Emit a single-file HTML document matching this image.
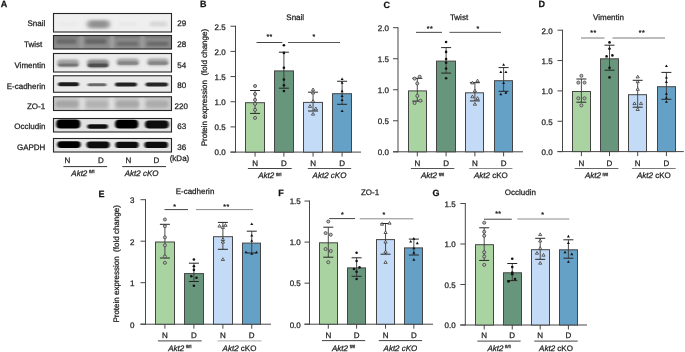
<!DOCTYPE html>
<html><head><meta charset="utf-8"><style>
html,body{margin:0;padding:0;background:#fff;}
svg{display:block;font-family:"Liberation Sans", sans-serif;will-change:transform;text-rendering:geometricPrecision;filter:blur(0.25px);}
text{stroke:#222;stroke-width:0.25px;}
</style></head><body>
<svg width="685" height="352" viewBox="0 0 685 352">
<rect width="685" height="352" fill="#fff"/>
<defs>
<filter id="b1" x="-50%" y="-100%" width="200%" height="300%"><feGaussianBlur stdDeviation="1.0 0.7"/></filter>
<filter id="b2" x="-50%" y="-100%" width="200%" height="300%"><feGaussianBlur stdDeviation="0.8 0.6"/></filter>
<filter id="b3" x="-50%" y="-100%" width="200%" height="300%"><feGaussianBlur stdDeviation="2.0 1.4"/></filter>
<filter id="b4" x="-50%" y="-100%" width="200%" height="300%"><feGaussianBlur stdDeviation="1.5 1.0"/></filter>
<clipPath id="c1"><rect x="53.5" y="13.5" width="118" height="18.5"/></clipPath>
<clipPath id="c2"><rect x="53.5" y="35.5" width="118" height="13.5"/></clipPath>
<clipPath id="c3"><rect x="53.5" y="53.5" width="118" height="18.5"/></clipPath>
<clipPath id="c4"><rect x="53.5" y="75.7" width="118" height="16.6"/></clipPath>
<clipPath id="c5"><rect x="53.5" y="96.7" width="118" height="13.9"/></clipPath>
<clipPath id="c6"><rect x="53.5" y="118.5" width="118" height="13.5"/></clipPath>
<clipPath id="c7"><rect x="53.5" y="138.5" width="118" height="13.5"/></clipPath>
</defs>
<g clip-path="url(#c1)">
<rect x="53" y="13" width="119" height="19.5" fill="#efefef"/>
<rect x="87" y="20" width="23.00" height="8.50" rx="4.00" fill="#a2a2a2" filter="url(#b3)"/>
<rect x="90.5" y="22" width="16.00" height="4.50" rx="2.25" fill="#8c8c8c" filter="url(#b3)"/>
<rect x="149.5" y="21.5" width="18.00" height="5.00" rx="2.50" fill="#d8d8d8" filter="url(#b4)"/>
<rect x="119" y="22" width="18.00" height="4.00" rx="2.00" fill="#e8e8e8" filter="url(#b4)"/>
<rect x="57" y="22" width="21.00" height="4.00" rx="2.00" fill="#ebebeb" filter="url(#b4)"/>
</g>
<rect x="53.5" y="13.5" width="118" height="18.5" fill="none" stroke="#262626" stroke-width="1.1"/>
<g clip-path="url(#c2)">
<rect x="53" y="35" width="119" height="14.5" fill="#8c8c8c"/>
<rect x="54" y="34" width="118.00" height="4.50" rx="2.25" fill="#7c7c7c" filter="url(#b4)"/>
<rect x="79.5" y="34" width="4.00" height="17.00" rx="4.00" fill="#9c9c9c" filter="url(#b4)"/>
<rect x="110" y="34" width="4.00" height="17.00" rx="4.00" fill="#a0a0a0" filter="url(#b4)"/>
<rect x="140.5" y="34" width="4.00" height="17.00" rx="4.00" fill="#9c9c9c" filter="url(#b4)"/>
<rect x="56" y="38.8" width="20.50" height="5.20" rx="2.60" fill="#6a6a6a" filter="url(#b4)"/>
<rect x="85" y="38.8" width="21.50" height="5.20" rx="2.60" fill="#666666" filter="url(#b4)"/>
<rect x="116.5" y="41.5" width="22.00" height="4.50" rx="2.25" fill="#6e6e6e" filter="url(#b4)"/>
<rect x="146.5" y="41.5" width="22.50" height="4.50" rx="2.25" fill="#6a6a6a" filter="url(#b4)"/>
</g>
<rect x="53.5" y="35.5" width="118" height="13.5" fill="none" stroke="#262626" stroke-width="1.1"/>
<g clip-path="url(#c3)">
<rect x="53" y="53" width="119" height="19.5" fill="#ebebeb"/>
<rect x="57" y="59.5" width="22.00" height="7.50" rx="3.75" fill="#a0a0a0" filter="url(#b4)"/>
<rect x="58.5" y="63.5" width="19.50" height="3.00" rx="1.50" fill="#767676" filter="url(#b2)"/>
<rect x="87" y="59.5" width="22.00" height="8.00" rx="4.00" fill="#8a8a8a" filter="url(#b4)"/>
<rect x="88" y="63.5" width="20.00" height="3.70" rx="1.85" fill="#505050" filter="url(#b2)"/>
<rect x="116.5" y="58.5" width="22.50" height="7.00" rx="3.50" fill="#a4a4a4" filter="url(#b4)"/>
<rect x="118" y="61.5" width="20.00" height="3.30" rx="1.65" fill="#868686" filter="url(#b2)"/>
<rect x="147" y="58.5" width="21.50" height="7.00" rx="3.50" fill="#a4a4a4" filter="url(#b4)"/>
<rect x="148.5" y="61.5" width="19.00" height="3.30" rx="1.65" fill="#868686" filter="url(#b2)"/>
</g>
<rect x="53.5" y="53.5" width="118" height="18.5" fill="none" stroke="#262626" stroke-width="1.1"/>
<g clip-path="url(#c4)">
<rect x="53" y="75.25" width="119" height="17.5" fill="#eaeaea"/>
<rect x="58" y="82.2" width="21.00" height="4.00" rx="2.00" fill="#1e1e1e" filter="url(#b2)"/>
<rect x="87.5" y="83.2" width="19.00" height="3.00" rx="1.50" fill="#6a6a6a" filter="url(#b2)"/>
<rect x="115" y="82.4" width="22.00" height="4.00" rx="2.00" fill="#222222" filter="url(#b2)"/>
<rect x="145.5" y="82.6" width="22.50" height="4.00" rx="2.00" fill="#262626" filter="url(#b2)"/>
</g>
<rect x="53.5" y="75.75" width="118" height="16.5" fill="none" stroke="#262626" stroke-width="1.1"/>
<g clip-path="url(#c5)">
<rect x="53" y="96.25" width="119" height="14.75" fill="#c8c8c8"/>
<rect x="79.5" y="95" width="5.50" height="17.00" rx="4.00" fill="#dcdcdc" filter="url(#b4)"/>
<rect x="109" y="95" width="5.50" height="17.00" rx="4.00" fill="#dedede" filter="url(#b4)"/>
<rect x="139" y="95" width="5.50" height="17.00" rx="4.00" fill="#dadada" filter="url(#b4)"/>
<rect x="55.5" y="100.5" width="23.00" height="7.00" rx="3.50" fill="#a6a6a6" filter="url(#b4)"/>
<rect x="86" y="101" width="22.00" height="6.50" rx="3.25" fill="#b2b2b2" filter="url(#b4)"/>
<rect x="116" y="100.5" width="23.00" height="7.00" rx="3.50" fill="#a8a8a8" filter="url(#b4)"/>
<rect x="146" y="100.5" width="22.50" height="7.00" rx="3.50" fill="#acacac" filter="url(#b4)"/>
</g>
<rect x="53.5" y="96.75" width="118" height="13.75" fill="none" stroke="#262626" stroke-width="1.1"/>
<g clip-path="url(#c6)">
<rect x="53" y="118" width="119" height="14.5" fill="#e2e2e2"/>
<rect x="56.2" y="119.6" width="24.10" height="9.00" rx="4.00" fill="#050505" filter="url(#b1)"/>
<rect x="87.3" y="124.2" width="20.70" height="4.60" rx="2.30" fill="#111111" filter="url(#b1)"/>
<rect x="115" y="119.8" width="23.30" height="8.80" rx="4.00" fill="#050505" filter="url(#b1)"/>
<rect x="145" y="120.6" width="23.80" height="8.00" rx="4.00" fill="#070707" filter="url(#b1)"/>
</g>
<rect x="53.5" y="118.5" width="118" height="13.5" fill="none" stroke="#262626" stroke-width="1.1"/>
<g clip-path="url(#c7)">
<rect x="53" y="138" width="119" height="14.5" fill="#e6e6e6"/>
<rect x="57.2" y="141.2" width="23.50" height="6.80" rx="3.40" fill="#060606" filter="url(#b1)"/>
<rect x="86.5" y="141.4" width="23.20" height="6.80" rx="3.40" fill="#080808" filter="url(#b1)"/>
<rect x="115.4" y="141.8" width="23.20" height="6.20" rx="3.10" fill="#0a0a0a" filter="url(#b1)"/>
<rect x="144.4" y="141.8" width="23.60" height="6.20" rx="3.10" fill="#0a0a0a" filter="url(#b1)"/>
</g>
<rect x="53.5" y="138.5" width="118" height="13.5" fill="none" stroke="#262626" stroke-width="1.1"/>
<text x="45.2" y="26.4" font-size="8" text-anchor="end" font-weight="normal" font-style="normal" fill="#1a1a1a" >Snail</text>
<text x="42.3" y="47.1" font-size="8" text-anchor="end" font-weight="normal" font-style="normal" fill="#1a1a1a" >Twist</text>
<text x="45.4" y="67.6" font-size="8" text-anchor="end" font-weight="normal" font-style="normal" fill="#1a1a1a" >Vimentin</text>
<text x="45.4" y="88.6" font-size="8" text-anchor="end" font-weight="normal" font-style="normal" fill="#1a1a1a" >E-cadherin</text>
<text x="45.2" y="108.8" font-size="8" text-anchor="end" font-weight="normal" font-style="normal" fill="#1a1a1a" >ZO-1</text>
<text x="45.4" y="129.3" font-size="8" text-anchor="end" font-weight="normal" font-style="normal" fill="#1a1a1a" >Occludin</text>
<text x="45.4" y="149.9" font-size="8" text-anchor="end" font-weight="normal" font-style="normal" fill="#1a1a1a" >GAPDH</text>
<text x="177.2" y="26.4" font-size="8" text-anchor="start" font-weight="normal" font-style="normal" fill="#1a1a1a" >29</text>
<text x="177.2" y="47.1" font-size="8" text-anchor="start" font-weight="normal" font-style="normal" fill="#1a1a1a" >28</text>
<text x="177.2" y="67.5" font-size="8" text-anchor="start" font-weight="normal" font-style="normal" fill="#1a1a1a" >54</text>
<text x="177.2" y="88.3" font-size="8" text-anchor="start" font-weight="normal" font-style="normal" fill="#1a1a1a" >80</text>
<text x="174.6" y="108.8" font-size="8" text-anchor="start" font-weight="normal" font-style="normal" fill="#1a1a1a" >220</text>
<text x="177.2" y="129.3" font-size="8" text-anchor="start" font-weight="normal" font-style="normal" fill="#1a1a1a" >63</text>
<text x="177.2" y="149.9" font-size="8" text-anchor="start" font-weight="normal" font-style="normal" fill="#1a1a1a" >36</text>
<text x="169.7" y="160.7" font-size="8" text-anchor="start" font-weight="normal" font-style="normal" fill="#1a1a1a" >(kDa)</text>
<text x="67.4" y="163.4" font-size="8" text-anchor="middle" font-weight="normal" font-style="normal" fill="#1a1a1a" >N</text>
<text x="100.8" y="163.4" font-size="8" text-anchor="middle" font-weight="normal" font-style="normal" fill="#1a1a1a" >D</text>
<text x="128.5" y="163.4" font-size="8" text-anchor="middle" font-weight="normal" font-style="normal" fill="#1a1a1a" >N</text>
<text x="156.5" y="163.4" font-size="8" text-anchor="middle" font-weight="normal" font-style="normal" fill="#1a1a1a" >D</text>
<line x1="63.4" y1="166.6" x2="107.1" y2="166.6" stroke="#333" stroke-width="1"/>
<line x1="122.2" y1="166.6" x2="166" y2="166.6" stroke="#333" stroke-width="1"/>
<text x="71.30" y="176.0" font-size="8" font-style="italic" fill="#1a1a1a">Akt2</text>
<text x="89.00" y="173.40" font-size="4.3" fill="#1a1a1a">fl/fl</text>
<text x="141.6" y="176.0" font-size="8" text-anchor="middle" font-style="italic" fill="#1a1a1a" style="white-space:pre">Akt2 cKO</text>
<line x1="235.5" y1="25.72" x2="235.5" y2="152.6" stroke="#474747" stroke-width="1"/>
<line x1="230.5" y1="152.1" x2="361" y2="152.1" stroke="#474747" stroke-width="1"/>
<line x1="230.5" y1="152.1" x2="235.5" y2="152.1" stroke="#474747" stroke-width="1"/>
<text x="225.6" y="155.4" font-size="8" text-anchor="end" font-weight="normal" font-style="normal" fill="#1a1a1a" >0.0</text>
<line x1="230.5" y1="126.92" x2="235.5" y2="126.92" stroke="#474747" stroke-width="1"/>
<text x="225.6" y="130.22" font-size="8" text-anchor="end" font-weight="normal" font-style="normal" fill="#1a1a1a" >0.5</text>
<line x1="230.5" y1="101.75" x2="235.5" y2="101.75" stroke="#474747" stroke-width="1"/>
<text x="225.6" y="105.05" font-size="8" text-anchor="end" font-weight="normal" font-style="normal" fill="#1a1a1a" >1.0</text>
<line x1="230.5" y1="76.57" x2="235.5" y2="76.57" stroke="#474747" stroke-width="1"/>
<text x="225.6" y="79.86999999999999" font-size="8" text-anchor="end" font-weight="normal" font-style="normal" fill="#1a1a1a" >1.5</text>
<line x1="230.5" y1="51.4" x2="235.5" y2="51.4" stroke="#474747" stroke-width="1"/>
<text x="225.6" y="54.699999999999996" font-size="8" text-anchor="end" font-weight="normal" font-style="normal" fill="#1a1a1a" >2.0</text>
<line x1="230.5" y1="26.22" x2="235.5" y2="26.22" stroke="#474747" stroke-width="1"/>
<text x="225.6" y="29.52" font-size="8" text-anchor="end" font-weight="normal" font-style="normal" fill="#1a1a1a" >2.5</text>
<rect x="245.5" y="102.70" width="19" height="49.40" fill="#a9d4a1" stroke="#454545" stroke-width="1"/>
<line x1="255.05" y1="152.1" x2="255.05" y2="156.6" stroke="#474747" stroke-width="1"/>
<rect x="274.5" y="70.90" width="19" height="81.20" fill="#68967c" stroke="#454545" stroke-width="1"/>
<line x1="283.9" y1="152.1" x2="283.9" y2="156.6" stroke="#474747" stroke-width="1"/>
<rect x="303.5" y="102.40" width="19" height="49.70" fill="#c3dbf6" stroke="#454545" stroke-width="1"/>
<line x1="313.05" y1="152.1" x2="313.05" y2="156.6" stroke="#474747" stroke-width="1"/>
<rect x="332.5" y="93.70" width="19" height="58.40" fill="#65a0c6" stroke="#454545" stroke-width="1"/>
<line x1="342.1" y1="152.1" x2="342.1" y2="156.6" stroke="#474747" stroke-width="1"/>
<line x1="255.05" y1="90.5" x2="255.05" y2="113.4" stroke="#3a3a3a" stroke-width="0.9"/>
<line x1="250.05" y1="90.5" x2="260.05" y2="90.5" stroke="#262626" stroke-width="1"/>
<line x1="250.05" y1="113.4" x2="260.05" y2="113.4" stroke="#262626" stroke-width="1"/>
<circle cx="255.05" cy="86" r="1.55" fill="#b8b8b8" stroke="#333" stroke-width="0.7"/>
<circle cx="255.05" cy="94" r="1.55" fill="#b8b8b8" stroke="#333" stroke-width="0.7"/>
<circle cx="255.05" cy="99.9" r="1.55" fill="#b8b8b8" stroke="#333" stroke-width="0.7"/>
<circle cx="255.05" cy="103.9" r="1.55" fill="#b8b8b8" stroke="#333" stroke-width="0.7"/>
<circle cx="255.05" cy="109.9" r="1.55" fill="#b8b8b8" stroke="#333" stroke-width="0.7"/>
<circle cx="255.05" cy="117.9" r="1.55" fill="#b8b8b8" stroke="#333" stroke-width="0.7"/>
<line x1="283.9" y1="52.2" x2="283.9" y2="88.2" stroke="#3a3a3a" stroke-width="0.9"/>
<line x1="278.9" y1="52.2" x2="288.9" y2="52.2" stroke="#262626" stroke-width="1"/>
<line x1="278.9" y1="88.2" x2="288.9" y2="88.2" stroke="#262626" stroke-width="1"/>
<circle cx="283.9" cy="45.2" r="1.3" fill="#111"/>
<circle cx="283.9" cy="52.9" r="1.3" fill="#111"/>
<circle cx="283.9" cy="67.8" r="1.3" fill="#111"/>
<circle cx="283.9" cy="79.6" r="1.3" fill="#111"/>
<circle cx="283.9" cy="85.3" r="1.3" fill="#111"/>
<circle cx="283.9" cy="91" r="1.3" fill="#111"/>
<line x1="313.05" y1="92.2" x2="313.05" y2="111" stroke="#3a3a3a" stroke-width="0.9"/>
<line x1="308.05" y1="92.2" x2="318.05" y2="92.2" stroke="#262626" stroke-width="1"/>
<line x1="308.05" y1="111" x2="318.05" y2="111" stroke="#262626" stroke-width="1"/>
<path d="M311.45,90.70 L313.05,88.00 L314.65,90.70 Z" fill="#eeeeee" stroke="#222" stroke-width="0.7"/>
<path d="M311.45,93.90 L313.05,91.20 L314.65,93.90 Z" fill="#eeeeee" stroke="#222" stroke-width="0.7"/>
<path d="M311.45,102.30 L313.05,99.60 L314.65,102.30 Z" fill="#eeeeee" stroke="#222" stroke-width="0.7"/>
<path d="M308.40,107.40 L310.00,104.70 L311.60,107.40 Z" fill="#eeeeee" stroke="#222" stroke-width="0.7"/>
<path d="M314.20,109.80 L315.80,107.10 L317.40,109.80 Z" fill="#eeeeee" stroke="#222" stroke-width="0.7"/>
<path d="M311.45,115.10 L313.05,112.40 L314.65,115.10 Z" fill="#eeeeee" stroke="#222" stroke-width="0.7"/>
<line x1="342.1" y1="81.25" x2="342.1" y2="104.3" stroke="#3a3a3a" stroke-width="0.9"/>
<line x1="337.1" y1="81.25" x2="347.1" y2="81.25" stroke="#262626" stroke-width="1"/>
<line x1="337.1" y1="104.3" x2="347.1" y2="104.3" stroke="#262626" stroke-width="1"/>
<path d="M340.60,80.00 L342.10,77.40 L343.60,80.00 Z" fill="#111"/>
<path d="M340.60,83.80 L342.10,81.20 L343.60,83.80 Z" fill="#111"/>
<path d="M340.60,92.20 L342.10,89.60 L343.60,92.20 Z" fill="#111"/>
<path d="M340.60,97.00 L342.10,94.40 L343.60,97.00 Z" fill="#111"/>
<path d="M340.60,101.00 L342.10,98.40 L343.60,101.00 Z" fill="#111"/>
<path d="M340.60,112.10 L342.10,109.50 L343.60,112.10 Z" fill="#111"/>
<text x="295.2" y="20.3" font-size="8" text-anchor="middle" font-weight="normal" font-style="normal" fill="#1a1a1a" >Snail</text>
<line x1="256.5" y1="42.5" x2="282.3" y2="42.5" stroke="#444" stroke-width="1"/>
<text x="269.55" y="39.4" font-size="7" text-anchor="middle" font-weight="normal" font-style="normal" fill="#1a1a1a" letter-spacing="0.4">**</text>
<line x1="288" y1="42.5" x2="340" y2="42.5" stroke="#555" stroke-width="1"/>
<text x="314.1" y="39.3" font-size="7" text-anchor="middle" font-weight="normal" font-style="normal" fill="#1a1a1a" letter-spacing="0.4">*</text>
<text x="255.05" y="165.8" font-size="8" text-anchor="middle" font-weight="normal" font-style="normal" fill="#1a1a1a" >N</text>
<text x="283.9" y="165.8" font-size="8" text-anchor="middle" font-weight="normal" font-style="normal" fill="#1a1a1a" >D</text>
<text x="313.05" y="165.8" font-size="8" text-anchor="middle" font-weight="normal" font-style="normal" fill="#1a1a1a" >N</text>
<text x="342.1" y="165.8" font-size="8" text-anchor="middle" font-weight="normal" font-style="normal" fill="#1a1a1a" >D</text>
<line x1="247.9" y1="168.5" x2="291.7" y2="168.5" stroke="#444" stroke-width="1"/>
<line x1="307.8" y1="168.5" x2="351.2" y2="168.5" stroke="#555" stroke-width="1"/>
<text x="258.20" y="178.1" font-size="8" font-style="italic" fill="#1a1a1a">Akt2</text>
<text x="275.90" y="175.50" font-size="4.3" fill="#1a1a1a">fl/fl</text>
<text x="329.5" y="178.1" font-size="8" text-anchor="middle" font-style="italic" fill="#1a1a1a" style="white-space:pre">Akt2 cKO</text>
<text transform="translate(207.0,87.6) rotate(-90)" font-size="8" text-anchor="middle" fill="#1a1a1a" style="white-space:pre">Protein expression  (fold change)</text>
<line x1="398" y1="27.2" x2="398" y2="152.3" stroke="#474747" stroke-width="1"/>
<line x1="393" y1="151.8" x2="523" y2="151.8" stroke="#474747" stroke-width="1"/>
<line x1="393" y1="151.8" x2="398" y2="151.8" stroke="#474747" stroke-width="1"/>
<text x="388.9" y="155.10000000000002" font-size="8" text-anchor="end" font-weight="normal" font-style="normal" fill="#1a1a1a" >0.0</text>
<line x1="393" y1="120.78" x2="398" y2="120.78" stroke="#474747" stroke-width="1"/>
<text x="388.9" y="124.08" font-size="8" text-anchor="end" font-weight="normal" font-style="normal" fill="#1a1a1a" >0.5</text>
<line x1="393" y1="89.75" x2="398" y2="89.75" stroke="#474747" stroke-width="1"/>
<text x="388.9" y="93.05" font-size="8" text-anchor="end" font-weight="normal" font-style="normal" fill="#1a1a1a" >1.0</text>
<line x1="393" y1="58.73" x2="398" y2="58.73" stroke="#474747" stroke-width="1"/>
<text x="388.9" y="62.029999999999994" font-size="8" text-anchor="end" font-weight="normal" font-style="normal" fill="#1a1a1a" >1.5</text>
<line x1="393" y1="27.7" x2="398" y2="27.7" stroke="#474747" stroke-width="1"/>
<text x="388.9" y="31.0" font-size="8" text-anchor="end" font-weight="normal" font-style="normal" fill="#1a1a1a" >2.0</text>
<rect x="408.5" y="90.90" width="18" height="60.90" fill="#a9d4a1" stroke="#454545" stroke-width="1"/>
<line x1="417.3" y1="151.8" x2="417.3" y2="156.3" stroke="#474747" stroke-width="1"/>
<rect x="436.5" y="61.10" width="19" height="90.70" fill="#68967c" stroke="#454545" stroke-width="1"/>
<line x1="446.1" y1="151.8" x2="446.1" y2="156.3" stroke="#474747" stroke-width="1"/>
<rect x="465.5" y="92.80" width="18" height="59.00" fill="#c3dbf6" stroke="#454545" stroke-width="1"/>
<line x1="474.9" y1="151.8" x2="474.9" y2="156.3" stroke="#474747" stroke-width="1"/>
<rect x="494.5" y="80.70" width="18" height="71.10" fill="#65a0c6" stroke="#454545" stroke-width="1"/>
<line x1="503.6" y1="151.8" x2="503.6" y2="156.3" stroke="#474747" stroke-width="1"/>
<line x1="417.3" y1="78.3" x2="417.3" y2="101.1" stroke="#3a3a3a" stroke-width="0.9"/>
<line x1="412.3" y1="78.3" x2="422.3" y2="78.3" stroke="#262626" stroke-width="1"/>
<line x1="412.3" y1="101.1" x2="422.3" y2="101.1" stroke="#262626" stroke-width="1"/>
<circle cx="414.6" cy="78.6" r="1.55" fill="#b8b8b8" stroke="#333" stroke-width="0.7"/>
<circle cx="419.7" cy="76.7" r="1.55" fill="#b8b8b8" stroke="#333" stroke-width="0.7"/>
<circle cx="417.3" cy="83.4" r="1.55" fill="#b8b8b8" stroke="#333" stroke-width="0.7"/>
<circle cx="417.3" cy="95.9" r="1.55" fill="#b8b8b8" stroke="#333" stroke-width="0.7"/>
<circle cx="420.4" cy="100.7" r="1.55" fill="#b8b8b8" stroke="#333" stroke-width="0.7"/>
<circle cx="414.6" cy="103" r="1.55" fill="#b8b8b8" stroke="#333" stroke-width="0.7"/>
<line x1="446.1" y1="47.6" x2="446.1" y2="73.1" stroke="#3a3a3a" stroke-width="0.9"/>
<line x1="441.1" y1="47.6" x2="451.1" y2="47.6" stroke="#262626" stroke-width="1"/>
<line x1="441.1" y1="73.1" x2="451.1" y2="73.1" stroke="#262626" stroke-width="1"/>
<circle cx="446.1" cy="42" r="1.3" fill="#111"/>
<circle cx="446.1" cy="51.9" r="1.3" fill="#111"/>
<circle cx="446.1" cy="59.1" r="1.3" fill="#111"/>
<circle cx="446.1" cy="62.7" r="1.3" fill="#111"/>
<circle cx="446.1" cy="68.6" r="1.3" fill="#111"/>
<circle cx="446.1" cy="78.2" r="1.3" fill="#111"/>
<line x1="474.9" y1="82.7" x2="474.9" y2="100.9" stroke="#3a3a3a" stroke-width="0.9"/>
<line x1="469.9" y1="82.7" x2="479.9" y2="82.7" stroke="#262626" stroke-width="1"/>
<line x1="469.9" y1="100.9" x2="479.9" y2="100.9" stroke="#262626" stroke-width="1"/>
<path d="M470.80,83.90 L472.40,81.20 L474.00,83.90 Z" fill="#eeeeee" stroke="#222" stroke-width="0.7"/>
<path d="M475.90,81.90 L477.50,79.20 L479.10,81.90 Z" fill="#eeeeee" stroke="#222" stroke-width="0.7"/>
<path d="M473.30,91.90 L474.90,89.20 L476.50,91.90 Z" fill="#eeeeee" stroke="#222" stroke-width="0.7"/>
<path d="M470.80,97.80 L472.40,95.10 L474.00,97.80 Z" fill="#eeeeee" stroke="#222" stroke-width="0.7"/>
<path d="M475.90,99.40 L477.50,96.70 L479.10,99.40 Z" fill="#eeeeee" stroke="#222" stroke-width="0.7"/>
<path d="M473.30,105.20 L474.90,102.50 L476.50,105.20 Z" fill="#eeeeee" stroke="#222" stroke-width="0.7"/>
<line x1="503.6" y1="67.6" x2="503.6" y2="91.3" stroke="#3a3a3a" stroke-width="0.9"/>
<line x1="498.6" y1="67.6" x2="508.6" y2="67.6" stroke="#262626" stroke-width="1"/>
<line x1="498.6" y1="91.3" x2="508.6" y2="91.3" stroke="#262626" stroke-width="1"/>
<path d="M502.10,65.80 L503.60,63.20 L505.10,65.80 Z" fill="#111"/>
<path d="M499.30,73.00 L500.80,70.40 L502.30,73.00 Z" fill="#111"/>
<path d="M504.40,73.00 L505.90,70.40 L507.40,73.00 Z" fill="#111"/>
<path d="M502.10,84.10 L503.60,81.50 L505.10,84.10 Z" fill="#111"/>
<path d="M499.30,95.30 L500.80,92.70 L502.30,95.30 Z" fill="#111"/>
<path d="M504.40,93.70 L505.90,91.10 L507.40,93.70 Z" fill="#111"/>
<text x="459" y="20.3" font-size="8" text-anchor="middle" font-weight="normal" font-style="normal" fill="#1a1a1a" >Twist</text>
<line x1="416" y1="32.35" x2="442" y2="32.35" stroke="#444" stroke-width="1"/>
<text x="429.95" y="30.9" font-size="7" text-anchor="middle" font-weight="normal" font-style="normal" fill="#1a1a1a" letter-spacing="0.4">**</text>
<line x1="449.5" y1="32.35" x2="501" y2="32.35" stroke="#555" stroke-width="1"/>
<text x="478.05" y="31.2" font-size="7" text-anchor="middle" font-weight="normal" font-style="normal" fill="#1a1a1a" letter-spacing="0.4">*</text>
<text x="417.3" y="165.8" font-size="8" text-anchor="middle" font-weight="normal" font-style="normal" fill="#1a1a1a" >N</text>
<text x="446.1" y="165.8" font-size="8" text-anchor="middle" font-weight="normal" font-style="normal" fill="#1a1a1a" >D</text>
<text x="474.9" y="165.8" font-size="8" text-anchor="middle" font-weight="normal" font-style="normal" fill="#1a1a1a" >N</text>
<text x="503.6" y="165.8" font-size="8" text-anchor="middle" font-weight="normal" font-style="normal" fill="#1a1a1a" >D</text>
<line x1="410.9" y1="168.5" x2="454.3" y2="168.5" stroke="#555" stroke-width="1"/>
<line x1="469.2" y1="168.5" x2="512.4" y2="168.5" stroke="#888" stroke-width="1"/>
<text x="421.00" y="178.1" font-size="8" font-style="italic" fill="#1a1a1a">Akt2</text>
<text x="438.70" y="175.50" font-size="4.3" fill="#1a1a1a">fl/fl</text>
<text x="490.79999999999995" y="178.1" font-size="8" text-anchor="middle" fill="#1a1a1a"><tspan font-style="italic">Akt2</tspan> cKO</text>
<line x1="562.5" y1="29.7" x2="562.5" y2="152.1" stroke="#474747" stroke-width="1"/>
<line x1="557.5" y1="151.6" x2="683.8" y2="151.6" stroke="#474747" stroke-width="1"/>
<line x1="557.5" y1="151.6" x2="562.5" y2="151.6" stroke="#474747" stroke-width="1"/>
<text x="552.7" y="154.9" font-size="8" text-anchor="end" font-weight="normal" font-style="normal" fill="#1a1a1a" >0.0</text>
<line x1="557.5" y1="121.25" x2="562.5" y2="121.25" stroke="#474747" stroke-width="1"/>
<text x="552.7" y="124.55" font-size="8" text-anchor="end" font-weight="normal" font-style="normal" fill="#1a1a1a" >0.5</text>
<line x1="557.5" y1="90.9" x2="562.5" y2="90.9" stroke="#474747" stroke-width="1"/>
<text x="552.7" y="94.2" font-size="8" text-anchor="end" font-weight="normal" font-style="normal" fill="#1a1a1a" >1.0</text>
<line x1="557.5" y1="60.55" x2="562.5" y2="60.55" stroke="#474747" stroke-width="1"/>
<text x="552.7" y="63.849999999999994" font-size="8" text-anchor="end" font-weight="normal" font-style="normal" fill="#1a1a1a" >1.5</text>
<line x1="557.5" y1="30.2" x2="562.5" y2="30.2" stroke="#474747" stroke-width="1"/>
<text x="552.7" y="33.5" font-size="8" text-anchor="end" font-weight="normal" font-style="normal" fill="#1a1a1a" >2.0</text>
<rect x="572.5" y="91.50" width="18" height="60.10" fill="#a9d4a1" stroke="#454545" stroke-width="1"/>
<line x1="581.4" y1="151.6" x2="581.4" y2="156.1" stroke="#474747" stroke-width="1"/>
<rect x="600.5" y="58.80" width="18" height="92.80" fill="#68967c" stroke="#454545" stroke-width="1"/>
<line x1="609.5" y1="151.6" x2="609.5" y2="156.1" stroke="#474747" stroke-width="1"/>
<rect x="628.5" y="94.70" width="18" height="56.90" fill="#c3dbf6" stroke="#454545" stroke-width="1"/>
<line x1="637.7" y1="151.6" x2="637.7" y2="156.1" stroke="#474747" stroke-width="1"/>
<rect x="657.5" y="86.70" width="18" height="64.90" fill="#65a0c6" stroke="#454545" stroke-width="1"/>
<line x1="666.4" y1="151.6" x2="666.4" y2="156.1" stroke="#474747" stroke-width="1"/>
<line x1="581.4" y1="79" x2="581.4" y2="102.2" stroke="#3a3a3a" stroke-width="0.9"/>
<line x1="576.4" y1="79" x2="586.4" y2="79" stroke="#262626" stroke-width="1"/>
<line x1="576.4" y1="102.2" x2="586.4" y2="102.2" stroke="#262626" stroke-width="1"/>
<circle cx="581.4" cy="75.8" r="1.55" fill="#b8b8b8" stroke="#333" stroke-width="0.7"/>
<circle cx="578.3" cy="82.6" r="1.55" fill="#b8b8b8" stroke="#333" stroke-width="0.7"/>
<circle cx="584.5" cy="82.6" r="1.55" fill="#b8b8b8" stroke="#333" stroke-width="0.7"/>
<circle cx="578.3" cy="98.3" r="1.55" fill="#b8b8b8" stroke="#333" stroke-width="0.7"/>
<circle cx="584.5" cy="98.3" r="1.55" fill="#b8b8b8" stroke="#333" stroke-width="0.7"/>
<circle cx="581.4" cy="105.4" r="1.55" fill="#b8b8b8" stroke="#333" stroke-width="0.7"/>
<line x1="609.5" y1="45.2" x2="609.5" y2="70.2" stroke="#3a3a3a" stroke-width="0.9"/>
<line x1="604.5" y1="45.2" x2="614.5" y2="45.2" stroke="#262626" stroke-width="1"/>
<line x1="604.5" y1="70.2" x2="614.5" y2="70.2" stroke="#262626" stroke-width="1"/>
<circle cx="609.5" cy="42.4" r="1.3" fill="#111"/>
<circle cx="609.5" cy="48.7" r="1.3" fill="#111"/>
<circle cx="606.6" cy="56.4" r="1.3" fill="#111"/>
<circle cx="612.4" cy="55.4" r="1.3" fill="#111"/>
<circle cx="609.5" cy="67.8" r="1.3" fill="#111"/>
<circle cx="609.5" cy="77.4" r="1.3" fill="#111"/>
<line x1="637.7" y1="80.3" x2="637.7" y2="107.2" stroke="#3a3a3a" stroke-width="0.9"/>
<line x1="632.7" y1="80.3" x2="642.7" y2="80.3" stroke="#262626" stroke-width="1"/>
<line x1="632.7" y1="107.2" x2="642.7" y2="107.2" stroke="#262626" stroke-width="1"/>
<path d="M636.10,77.90 L637.70,75.20 L639.30,77.90 Z" fill="#eeeeee" stroke="#222" stroke-width="0.7"/>
<path d="M636.10,82.70 L637.70,80.00 L639.30,82.70 Z" fill="#eeeeee" stroke="#222" stroke-width="0.7"/>
<path d="M636.10,90.30 L637.70,87.60 L639.30,90.30 Z" fill="#eeeeee" stroke="#222" stroke-width="0.7"/>
<path d="M632.90,104.60 L634.50,101.90 L636.10,104.60 Z" fill="#eeeeee" stroke="#222" stroke-width="0.7"/>
<path d="M639.40,104.60 L641.00,101.90 L642.60,104.60 Z" fill="#eeeeee" stroke="#222" stroke-width="0.7"/>
<path d="M636.10,110.50 L637.70,107.80 L639.30,110.50 Z" fill="#eeeeee" stroke="#222" stroke-width="0.7"/>
<line x1="666.4" y1="72.4" x2="666.4" y2="99.3" stroke="#3a3a3a" stroke-width="0.9"/>
<line x1="661.4" y1="72.4" x2="671.4" y2="72.4" stroke="#262626" stroke-width="1"/>
<line x1="661.4" y1="99.3" x2="671.4" y2="99.3" stroke="#262626" stroke-width="1"/>
<path d="M664.90,67.00 L666.40,64.40 L667.90,67.00 Z" fill="#111"/>
<path d="M664.90,78.60 L666.40,76.00 L667.90,78.60 Z" fill="#111"/>
<path d="M664.90,82.90 L666.40,80.30 L667.90,82.90 Z" fill="#111"/>
<path d="M664.90,94.80 L666.40,92.20 L667.90,94.80 Z" fill="#111"/>
<path d="M664.90,98.80 L666.40,96.20 L667.90,98.80 Z" fill="#111"/>
<path d="M664.90,102.80 L666.40,100.20 L667.90,102.80 Z" fill="#111"/>
<text x="608.5" y="20.3" font-size="8" text-anchor="middle" font-weight="normal" font-style="normal" fill="#1a1a1a" >Vimentin</text>
<line x1="581" y1="38" x2="604.5" y2="38" stroke="#7a7a7a" stroke-width="1"/>
<text x="593.4" y="34.6" font-size="7" text-anchor="middle" font-weight="normal" font-style="normal" fill="#1a1a1a" letter-spacing="0.4">**</text>
<line x1="612.5" y1="38" x2="665" y2="38" stroke="#7a7a7a" stroke-width="1"/>
<text x="641.95" y="35.1" font-size="7" text-anchor="middle" font-weight="normal" font-style="normal" fill="#1a1a1a" letter-spacing="0.4">**</text>
<text x="581.4" y="165.8" font-size="8" text-anchor="middle" font-weight="normal" font-style="normal" fill="#1a1a1a" >N</text>
<text x="609.5" y="165.8" font-size="8" text-anchor="middle" font-weight="normal" font-style="normal" fill="#1a1a1a" >D</text>
<text x="637.7" y="165.8" font-size="8" text-anchor="middle" font-weight="normal" font-style="normal" fill="#1a1a1a" >N</text>
<text x="666.4" y="165.8" font-size="8" text-anchor="middle" font-weight="normal" font-style="normal" fill="#1a1a1a" >D</text>
<line x1="574.6" y1="168.5" x2="618.4" y2="168.5" stroke="#666" stroke-width="1"/>
<line x1="631.9" y1="168.5" x2="675.7" y2="168.5" stroke="#7a7a7a" stroke-width="1"/>
<text x="584.90" y="178.1" font-size="8" font-style="italic" fill="#1a1a1a">Akt2</text>
<text x="602.60" y="175.50" font-size="4.3" fill="#1a1a1a">fl/fl</text>
<text x="653.8" y="178.1" font-size="8" text-anchor="middle" fill="#1a1a1a"><tspan font-style="italic">Akt2</tspan> cKO</text>
<line x1="145.5" y1="199.2" x2="145.5" y2="324.7" stroke="#474747" stroke-width="1"/>
<line x1="140.5" y1="324.2" x2="271" y2="324.2" stroke="#474747" stroke-width="1"/>
<line x1="140.5" y1="324.2" x2="145.5" y2="324.2" stroke="#474747" stroke-width="1"/>
<text x="134.4" y="327.5" font-size="8" text-anchor="end" font-weight="normal" font-style="normal" fill="#1a1a1a" >0</text>
<line x1="140.5" y1="282.7" x2="145.5" y2="282.7" stroke="#474747" stroke-width="1"/>
<text x="134.4" y="286.0" font-size="8" text-anchor="end" font-weight="normal" font-style="normal" fill="#1a1a1a" >1</text>
<line x1="140.5" y1="241.2" x2="145.5" y2="241.2" stroke="#474747" stroke-width="1"/>
<text x="134.4" y="244.5" font-size="8" text-anchor="end" font-weight="normal" font-style="normal" fill="#1a1a1a" >2</text>
<line x1="140.5" y1="199.7" x2="145.5" y2="199.7" stroke="#474747" stroke-width="1"/>
<text x="134.4" y="203.0" font-size="8" text-anchor="end" font-weight="normal" font-style="normal" fill="#1a1a1a" >3</text>
<rect x="155.5" y="242.00" width="19" height="82.20" fill="#a9d4a1" stroke="#454545" stroke-width="1"/>
<line x1="164.9" y1="324.2" x2="164.9" y2="328.7" stroke="#474747" stroke-width="1"/>
<rect x="184.5" y="273.60" width="19" height="50.60" fill="#68967c" stroke="#454545" stroke-width="1"/>
<line x1="193.9" y1="324.2" x2="193.9" y2="328.7" stroke="#474747" stroke-width="1"/>
<rect x="213.5" y="236.70" width="19" height="87.50" fill="#c3dbf6" stroke="#454545" stroke-width="1"/>
<line x1="222.9" y1="324.2" x2="222.9" y2="328.7" stroke="#474747" stroke-width="1"/>
<rect x="242.5" y="243.10" width="18" height="81.10" fill="#65a0c6" stroke="#454545" stroke-width="1"/>
<line x1="251.75" y1="324.2" x2="251.75" y2="328.7" stroke="#474747" stroke-width="1"/>
<line x1="164.9" y1="224.3" x2="164.9" y2="258" stroke="#3a3a3a" stroke-width="0.9"/>
<line x1="159.9" y1="224.3" x2="169.9" y2="224.3" stroke="#262626" stroke-width="1"/>
<line x1="159.9" y1="258" x2="169.9" y2="258" stroke="#262626" stroke-width="1"/>
<circle cx="164.9" cy="219.5" r="1.55" fill="#b8b8b8" stroke="#333" stroke-width="0.7"/>
<circle cx="164.9" cy="226.2" r="1.55" fill="#b8b8b8" stroke="#333" stroke-width="0.7"/>
<circle cx="164.9" cy="237.4" r="1.55" fill="#b8b8b8" stroke="#333" stroke-width="0.7"/>
<circle cx="164.9" cy="245.3" r="1.55" fill="#b8b8b8" stroke="#333" stroke-width="0.7"/>
<circle cx="164.9" cy="256.5" r="1.55" fill="#b8b8b8" stroke="#333" stroke-width="0.7"/>
<circle cx="164.9" cy="262.8" r="1.55" fill="#b8b8b8" stroke="#333" stroke-width="0.7"/>
<line x1="193.9" y1="263.2" x2="193.9" y2="281.5" stroke="#3a3a3a" stroke-width="0.9"/>
<line x1="188.9" y1="263.2" x2="198.9" y2="263.2" stroke="#262626" stroke-width="1"/>
<line x1="188.9" y1="281.5" x2="198.9" y2="281.5" stroke="#262626" stroke-width="1"/>
<circle cx="193.9" cy="259.5" r="1.3" fill="#111"/>
<circle cx="193.9" cy="266.2" r="1.3" fill="#111"/>
<circle cx="193.9" cy="269.9" r="1.3" fill="#111"/>
<circle cx="191.3" cy="276.2" r="1.3" fill="#111"/>
<circle cx="196.5" cy="277.8" r="1.3" fill="#111"/>
<circle cx="193.9" cy="285.8" r="1.3" fill="#111"/>
<line x1="222.9" y1="222.4" x2="222.9" y2="249.3" stroke="#3a3a3a" stroke-width="0.9"/>
<line x1="217.9" y1="222.4" x2="227.9" y2="222.4" stroke="#262626" stroke-width="1"/>
<line x1="217.9" y1="249.3" x2="227.9" y2="249.3" stroke="#262626" stroke-width="1"/>
<path d="M217.90,227.10 L219.50,224.40 L221.10,227.10 Z" fill="#eeeeee" stroke="#222" stroke-width="0.7"/>
<path d="M223.90,226.30 L225.50,223.60 L227.10,226.30 Z" fill="#eeeeee" stroke="#222" stroke-width="0.7"/>
<path d="M221.30,228.40 L222.90,225.70 L224.50,228.40 Z" fill="#eeeeee" stroke="#222" stroke-width="0.7"/>
<path d="M221.30,240.60 L222.90,237.90 L224.50,240.60 Z" fill="#eeeeee" stroke="#222" stroke-width="0.7"/>
<path d="M221.30,243.00 L222.90,240.30 L224.50,243.00 Z" fill="#eeeeee" stroke="#222" stroke-width="0.7"/>
<path d="M221.30,260.50 L222.90,257.80 L224.50,260.50 Z" fill="#eeeeee" stroke="#222" stroke-width="0.7"/>
<line x1="251.75" y1="231.2" x2="251.75" y2="253" stroke="#3a3a3a" stroke-width="0.9"/>
<line x1="246.75" y1="231.2" x2="256.75" y2="231.2" stroke="#262626" stroke-width="1"/>
<line x1="246.75" y1="253" x2="256.75" y2="253" stroke="#262626" stroke-width="1"/>
<path d="M250.25,225.10 L251.75,222.50 L253.25,225.10 Z" fill="#111"/>
<path d="M250.25,236.60 L251.75,234.00 L253.25,236.60 Z" fill="#111"/>
<path d="M250.25,241.80 L251.75,239.20 L253.25,241.80 Z" fill="#111"/>
<path d="M244.50,253.30 L246.00,250.70 L247.50,253.30 Z" fill="#111"/>
<path d="M255.00,253.30 L256.50,250.70 L258.00,253.30 Z" fill="#111"/>
<path d="M250.25,254.80 L251.75,252.20 L253.25,254.80 Z" fill="#111"/>
<text x="195" y="193.8" font-size="8" text-anchor="middle" font-weight="normal" font-style="normal" fill="#1a1a1a" >E-cadherin</text>
<line x1="164.5" y1="209.6" x2="188" y2="209.6" stroke="#444" stroke-width="1"/>
<text x="174.85" y="208.7" font-size="7" text-anchor="middle" font-weight="normal" font-style="normal" fill="#1a1a1a" letter-spacing="0.4">*</text>
<line x1="196" y1="209.6" x2="253" y2="209.6" stroke="#8a8a8a" stroke-width="1"/>
<text x="226.4" y="208.7" font-size="7" text-anchor="middle" font-weight="normal" font-style="normal" fill="#1a1a1a" letter-spacing="0.4">**</text>
<text x="164.9" y="338" font-size="8" text-anchor="middle" font-weight="normal" font-style="normal" fill="#1a1a1a" >N</text>
<text x="193.9" y="338" font-size="8" text-anchor="middle" font-weight="normal" font-style="normal" fill="#1a1a1a" >D</text>
<text x="222.9" y="338" font-size="8" text-anchor="middle" font-weight="normal" font-style="normal" fill="#1a1a1a" >N</text>
<text x="251.75" y="338" font-size="8" text-anchor="middle" font-weight="normal" font-style="normal" fill="#1a1a1a" >D</text>
<line x1="157.9" y1="340.9" x2="201.7" y2="340.9" stroke="#444" stroke-width="1"/>
<line x1="217.5" y1="340.9" x2="261.5" y2="340.9" stroke="#aaa" stroke-width="1"/>
<text x="168.20" y="350.8" font-size="8" font-style="italic" fill="#1a1a1a">Akt2</text>
<text x="185.90" y="348.20" font-size="4.3" fill="#1a1a1a">fl/fl</text>
<text x="239.5" y="350.8" font-size="8" text-anchor="middle" fill="#1a1a1a"><tspan font-style="italic">Akt2</tspan> cKO</text>
<text transform="translate(118.7,263.9) rotate(-90)" font-size="8" text-anchor="middle" fill="#1a1a1a" style="white-space:pre">Protein expression  (fold change)</text>
<line x1="309.5" y1="200.55" x2="309.5" y2="324.7" stroke="#474747" stroke-width="1"/>
<line x1="304.5" y1="324.2" x2="433" y2="324.2" stroke="#474747" stroke-width="1"/>
<line x1="304.5" y1="324.2" x2="309.5" y2="324.2" stroke="#474747" stroke-width="1"/>
<text x="300.8" y="327.5" font-size="8" text-anchor="end" font-weight="normal" font-style="normal" fill="#1a1a1a" >0.0</text>
<line x1="304.5" y1="283.15" x2="309.5" y2="283.15" stroke="#474747" stroke-width="1"/>
<text x="300.8" y="286.45" font-size="8" text-anchor="end" font-weight="normal" font-style="normal" fill="#1a1a1a" >0.5</text>
<line x1="304.5" y1="242.1" x2="309.5" y2="242.1" stroke="#474747" stroke-width="1"/>
<text x="300.8" y="245.4" font-size="8" text-anchor="end" font-weight="normal" font-style="normal" fill="#1a1a1a" >1.0</text>
<line x1="304.5" y1="201.05" x2="309.5" y2="201.05" stroke="#474747" stroke-width="1"/>
<text x="300.8" y="204.35000000000002" font-size="8" text-anchor="end" font-weight="normal" font-style="normal" fill="#1a1a1a" >1.5</text>
<rect x="319.5" y="242.80" width="18" height="81.40" fill="#a9d4a1" stroke="#454545" stroke-width="1"/>
<line x1="328.3" y1="324.2" x2="328.3" y2="328.7" stroke="#474747" stroke-width="1"/>
<rect x="347.5" y="267.90" width="18" height="56.30" fill="#68967c" stroke="#454545" stroke-width="1"/>
<line x1="356.6" y1="324.2" x2="356.6" y2="328.7" stroke="#474747" stroke-width="1"/>
<rect x="376.5" y="239.60" width="18" height="84.60" fill="#c3dbf6" stroke="#454545" stroke-width="1"/>
<line x1="385.55" y1="324.2" x2="385.55" y2="328.7" stroke="#474747" stroke-width="1"/>
<rect x="404.5" y="247.90" width="18" height="76.30" fill="#65a0c6" stroke="#454545" stroke-width="1"/>
<line x1="413.85" y1="324.2" x2="413.85" y2="328.7" stroke="#474747" stroke-width="1"/>
<line x1="328.3" y1="227.2" x2="328.3" y2="257.2" stroke="#3a3a3a" stroke-width="0.9"/>
<line x1="323.3" y1="227.2" x2="333.3" y2="227.2" stroke="#262626" stroke-width="1"/>
<line x1="323.3" y1="257.2" x2="333.3" y2="257.2" stroke="#262626" stroke-width="1"/>
<circle cx="328.3" cy="221.5" r="1.55" fill="#b8b8b8" stroke="#333" stroke-width="0.7"/>
<circle cx="325.6" cy="233.1" r="1.55" fill="#b8b8b8" stroke="#333" stroke-width="0.7"/>
<circle cx="330.8" cy="234.7" r="1.55" fill="#b8b8b8" stroke="#333" stroke-width="0.7"/>
<circle cx="325.6" cy="249" r="1.55" fill="#b8b8b8" stroke="#333" stroke-width="0.7"/>
<circle cx="330.8" cy="251" r="1.55" fill="#b8b8b8" stroke="#333" stroke-width="0.7"/>
<circle cx="328.3" cy="262.2" r="1.55" fill="#b8b8b8" stroke="#333" stroke-width="0.7"/>
<line x1="356.6" y1="257.8" x2="356.6" y2="276.3" stroke="#3a3a3a" stroke-width="0.9"/>
<line x1="351.6" y1="257.8" x2="361.6" y2="257.8" stroke="#262626" stroke-width="1"/>
<line x1="351.6" y1="276.3" x2="361.6" y2="276.3" stroke="#262626" stroke-width="1"/>
<circle cx="356.6" cy="252.7" r="1.3" fill="#111"/>
<circle cx="356.6" cy="261" r="1.3" fill="#111"/>
<circle cx="359.5" cy="267.4" r="1.3" fill="#111"/>
<circle cx="354" cy="269" r="1.3" fill="#111"/>
<circle cx="356.6" cy="271.8" r="1.3" fill="#111"/>
<circle cx="356.6" cy="279" r="1.3" fill="#111"/>
<line x1="385.55" y1="223.5" x2="385.55" y2="254.2" stroke="#3a3a3a" stroke-width="0.9"/>
<line x1="380.55" y1="223.5" x2="390.55" y2="223.5" stroke="#262626" stroke-width="1"/>
<line x1="380.55" y1="254.2" x2="390.55" y2="254.2" stroke="#262626" stroke-width="1"/>
<path d="M380.40,225.20 L382.00,222.50 L383.60,225.20 Z" fill="#eeeeee" stroke="#222" stroke-width="0.7"/>
<path d="M387.90,224.20 L389.50,221.50 L391.10,224.20 Z" fill="#eeeeee" stroke="#222" stroke-width="0.7"/>
<path d="M383.95,233.50 L385.55,230.80 L387.15,233.50 Z" fill="#eeeeee" stroke="#222" stroke-width="0.7"/>
<path d="M383.95,243.00 L385.55,240.30 L387.15,243.00 Z" fill="#eeeeee" stroke="#222" stroke-width="0.7"/>
<path d="M383.95,252.90 L385.55,250.20 L387.15,252.90 Z" fill="#eeeeee" stroke="#222" stroke-width="0.7"/>
<path d="M383.95,263.40 L385.55,260.70 L387.15,263.40 Z" fill="#eeeeee" stroke="#222" stroke-width="0.7"/>
<line x1="413.85" y1="239.1" x2="413.85" y2="255" stroke="#3a3a3a" stroke-width="0.9"/>
<line x1="408.85" y1="239.1" x2="418.85" y2="239.1" stroke="#262626" stroke-width="1"/>
<line x1="408.85" y1="255" x2="418.85" y2="255" stroke="#262626" stroke-width="1"/>
<path d="M412.35,239.70 L413.85,237.10 L415.35,239.70 Z" fill="#111"/>
<path d="M409.20,242.60 L410.70,240.00 L412.20,242.60 Z" fill="#111"/>
<path d="M415.80,244.20 L417.30,241.60 L418.80,244.20 Z" fill="#111"/>
<path d="M412.35,249.30 L413.85,246.70 L415.35,249.30 Z" fill="#111"/>
<path d="M412.35,253.70 L413.85,251.10 L415.35,253.70 Z" fill="#111"/>
<path d="M412.35,260.70 L413.85,258.10 L415.35,260.70 Z" fill="#111"/>
<text x="370" y="195.3" font-size="8" text-anchor="middle" font-weight="normal" font-style="normal" fill="#1a1a1a" >ZO-1</text>
<line x1="329.2" y1="218.6" x2="355" y2="218.6" stroke="#444" stroke-width="1"/>
<text x="342.6" y="216.9" font-size="7" text-anchor="middle" font-weight="normal" font-style="normal" fill="#1a1a1a" letter-spacing="0.4">*</text>
<line x1="359.7" y1="218.8" x2="413.3" y2="218.8" stroke="#8a8a8a" stroke-width="1"/>
<text x="384.1" y="217.45" font-size="7" text-anchor="middle" font-weight="normal" font-style="normal" fill="#1a1a1a" letter-spacing="0.4">*</text>
<text x="328.3" y="338" font-size="8" text-anchor="middle" font-weight="normal" font-style="normal" fill="#1a1a1a" >N</text>
<text x="356.6" y="338" font-size="8" text-anchor="middle" font-weight="normal" font-style="normal" fill="#1a1a1a" >D</text>
<text x="385.55" y="338" font-size="8" text-anchor="middle" font-weight="normal" font-style="normal" fill="#1a1a1a" >N</text>
<text x="413.85" y="338" font-size="8" text-anchor="middle" font-weight="normal" font-style="normal" fill="#1a1a1a" >D</text>
<line x1="321.9" y1="340.6" x2="365.2" y2="340.6" stroke="#444" stroke-width="1"/>
<line x1="378.8" y1="340.6" x2="422.1" y2="340.6" stroke="#444" stroke-width="1"/>
<text x="331.95" y="350.8" font-size="8" font-style="italic" fill="#1a1a1a">Akt2</text>
<text x="349.65" y="348.20" font-size="4.3" fill="#1a1a1a">fl/fl</text>
<text x="400.45000000000005" y="350.8" font-size="8" text-anchor="middle" font-style="italic" fill="#1a1a1a" style="white-space:pre">Akt2 cKO</text>
<line x1="465.3" y1="203.0" x2="465.3" y2="325.5" stroke="#474747" stroke-width="1"/>
<line x1="460.3" y1="325" x2="587" y2="325" stroke="#474747" stroke-width="1"/>
<line x1="460.3" y1="325" x2="465.3" y2="325" stroke="#474747" stroke-width="1"/>
<text x="455.7" y="328.3" font-size="8" text-anchor="end" font-weight="normal" font-style="normal" fill="#1a1a1a" >0.0</text>
<line x1="460.3" y1="284.5" x2="465.3" y2="284.5" stroke="#474747" stroke-width="1"/>
<text x="455.7" y="287.8" font-size="8" text-anchor="end" font-weight="normal" font-style="normal" fill="#1a1a1a" >0.5</text>
<line x1="460.3" y1="244" x2="465.3" y2="244" stroke="#474747" stroke-width="1"/>
<text x="455.7" y="247.3" font-size="8" text-anchor="end" font-weight="normal" font-style="normal" fill="#1a1a1a" >1.0</text>
<line x1="460.3" y1="203.5" x2="465.3" y2="203.5" stroke="#474747" stroke-width="1"/>
<text x="455.7" y="206.8" font-size="8" text-anchor="end" font-weight="normal" font-style="normal" fill="#1a1a1a" >1.5</text>
<rect x="475.5" y="244.70" width="18" height="80.30" fill="#a9d4a1" stroke="#454545" stroke-width="1"/>
<line x1="484.2" y1="325" x2="484.2" y2="329.5" stroke="#474747" stroke-width="1"/>
<rect x="503.5" y="272.80" width="18" height="52.20" fill="#68967c" stroke="#454545" stroke-width="1"/>
<line x1="512.25" y1="325" x2="512.25" y2="329.5" stroke="#474747" stroke-width="1"/>
<rect x="531.5" y="249.70" width="18" height="75.30" fill="#c3dbf6" stroke="#454545" stroke-width="1"/>
<line x1="540.2" y1="325" x2="540.2" y2="329.5" stroke="#474747" stroke-width="1"/>
<rect x="559.5" y="249.80" width="18" height="75.20" fill="#65a0c6" stroke="#454545" stroke-width="1"/>
<line x1="568.4" y1="325" x2="568.4" y2="329.5" stroke="#474747" stroke-width="1"/>
<line x1="484.2" y1="227.8" x2="484.2" y2="260.4" stroke="#3a3a3a" stroke-width="0.9"/>
<line x1="479.2" y1="227.8" x2="489.2" y2="227.8" stroke="#262626" stroke-width="1"/>
<line x1="479.2" y1="260.4" x2="489.2" y2="260.4" stroke="#262626" stroke-width="1"/>
<circle cx="484.2" cy="222.7" r="1.55" fill="#b8b8b8" stroke="#333" stroke-width="0.7"/>
<circle cx="484.2" cy="231.8" r="1.55" fill="#b8b8b8" stroke="#333" stroke-width="0.7"/>
<circle cx="484.2" cy="235.8" r="1.55" fill="#b8b8b8" stroke="#333" stroke-width="0.7"/>
<circle cx="484.2" cy="252.2" r="1.55" fill="#b8b8b8" stroke="#333" stroke-width="0.7"/>
<circle cx="484.2" cy="256.5" r="1.55" fill="#b8b8b8" stroke="#333" stroke-width="0.7"/>
<circle cx="484.2" cy="264.9" r="1.55" fill="#b8b8b8" stroke="#333" stroke-width="0.7"/>
<line x1="512.25" y1="263.5" x2="512.25" y2="280.6" stroke="#3a3a3a" stroke-width="0.9"/>
<line x1="507.25" y1="263.5" x2="517.25" y2="263.5" stroke="#262626" stroke-width="1"/>
<line x1="507.25" y1="280.6" x2="517.25" y2="280.6" stroke="#262626" stroke-width="1"/>
<circle cx="512.25" cy="258.8" r="1.3" fill="#111"/>
<circle cx="512.25" cy="267" r="1.3" fill="#111"/>
<circle cx="512.25" cy="272.6" r="1.3" fill="#111"/>
<circle cx="512.25" cy="274.2" r="1.3" fill="#111"/>
<circle cx="515" cy="279" r="1.3" fill="#111"/>
<circle cx="508.5" cy="281.4" r="1.3" fill="#111"/>
<line x1="540.2" y1="238.3" x2="540.2" y2="259.3" stroke="#3a3a3a" stroke-width="0.9"/>
<line x1="535.2" y1="238.3" x2="545.2" y2="238.3" stroke="#262626" stroke-width="1"/>
<line x1="535.2" y1="259.3" x2="545.2" y2="259.3" stroke="#262626" stroke-width="1"/>
<path d="M538.60,235.60 L540.20,232.90 L541.80,235.60 Z" fill="#eeeeee" stroke="#222" stroke-width="0.7"/>
<path d="M538.60,241.90 L540.20,239.20 L541.80,241.90 Z" fill="#eeeeee" stroke="#222" stroke-width="0.7"/>
<path d="M538.60,249.40 L540.20,246.70 L541.80,249.40 Z" fill="#eeeeee" stroke="#222" stroke-width="0.7"/>
<path d="M535.40,254.20 L537.00,251.50 L538.60,254.20 Z" fill="#eeeeee" stroke="#222" stroke-width="0.7"/>
<path d="M541.90,256.20 L543.50,253.50 L545.10,256.20 Z" fill="#eeeeee" stroke="#222" stroke-width="0.7"/>
<path d="M538.60,264.20 L540.20,261.50 L541.80,264.20 Z" fill="#eeeeee" stroke="#222" stroke-width="0.7"/>
<line x1="568.4" y1="239.8" x2="568.4" y2="258.2" stroke="#3a3a3a" stroke-width="0.9"/>
<line x1="563.4" y1="239.8" x2="573.4" y2="239.8" stroke="#262626" stroke-width="1"/>
<line x1="563.4" y1="258.2" x2="573.4" y2="258.2" stroke="#262626" stroke-width="1"/>
<path d="M566.90,237.40 L568.40,234.80 L569.90,237.40 Z" fill="#111"/>
<path d="M566.90,244.10 L568.40,241.50 L569.90,244.10 Z" fill="#111"/>
<path d="M563.50,253.30 L565.00,250.70 L566.50,253.30 Z" fill="#111"/>
<path d="M570.30,255.20 L571.80,252.60 L573.30,255.20 Z" fill="#111"/>
<path d="M566.90,262.80 L568.40,260.20 L569.90,262.80 Z" fill="#111"/>
<text x="520.3" y="195.3" font-size="8" text-anchor="middle" font-weight="normal" font-style="normal" fill="#1a1a1a" >Occludin</text>
<line x1="484" y1="219.2" x2="511.8" y2="219.2" stroke="#444" stroke-width="1"/>
<text x="498.35" y="215.8" font-size="7" text-anchor="middle" font-weight="normal" font-style="normal" fill="#1a1a1a" letter-spacing="0.4">**</text>
<line x1="517.4" y1="219.0" x2="569.3" y2="219.0" stroke="#8a8a8a" stroke-width="1"/>
<text x="542.7" y="216.8" font-size="7" text-anchor="middle" font-weight="normal" font-style="normal" fill="#1a1a1a" letter-spacing="0.4">*</text>
<text x="484.2" y="338" font-size="8" text-anchor="middle" font-weight="normal" font-style="normal" fill="#1a1a1a" >N</text>
<text x="512.25" y="338" font-size="8" text-anchor="middle" font-weight="normal" font-style="normal" fill="#1a1a1a" >D</text>
<text x="540.2" y="338" font-size="8" text-anchor="middle" font-weight="normal" font-style="normal" fill="#1a1a1a" >N</text>
<text x="568.4" y="338" font-size="8" text-anchor="middle" font-weight="normal" font-style="normal" fill="#1a1a1a" >D</text>
<line x1="477.4" y1="341.1" x2="520.6" y2="341.1" stroke="#444" stroke-width="1"/>
<line x1="534.3" y1="341.1" x2="577.7" y2="341.1" stroke="#444" stroke-width="1"/>
<text x="487.40" y="350.8" font-size="8" font-style="italic" fill="#1a1a1a">Akt2</text>
<text x="505.10" y="348.20" font-size="4.3" fill="#1a1a1a">fl/fl</text>
<text x="556.0" y="350.8" font-size="8" text-anchor="middle" fill="#1a1a1a"><tspan font-style="italic">Akt2</tspan> cKO</text>
<text x="0.7" y="7.4" font-size="9" text-anchor="start" font-weight="bold" font-style="normal" fill="#111" >A</text>
<text x="199.9" y="7.2" font-size="9" text-anchor="start" font-weight="bold" font-style="normal" fill="#111" >B</text>
<text x="383.5" y="7.5" font-size="9" text-anchor="start" font-weight="bold" font-style="normal" fill="#111" >C</text>
<text x="538.6" y="7.4" font-size="9" text-anchor="start" font-weight="bold" font-style="normal" fill="#111" >D</text>
<text x="98.6" y="196.7" font-size="9" text-anchor="start" font-weight="bold" font-style="normal" fill="#111" >E</text>
<text x="278.3" y="195.9" font-size="9" text-anchor="start" font-weight="bold" font-style="normal" fill="#111" >F</text>
<text x="432.5" y="196.0" font-size="9" text-anchor="start" font-weight="bold" font-style="normal" fill="#111" >G</text>
</svg>
</body></html>
